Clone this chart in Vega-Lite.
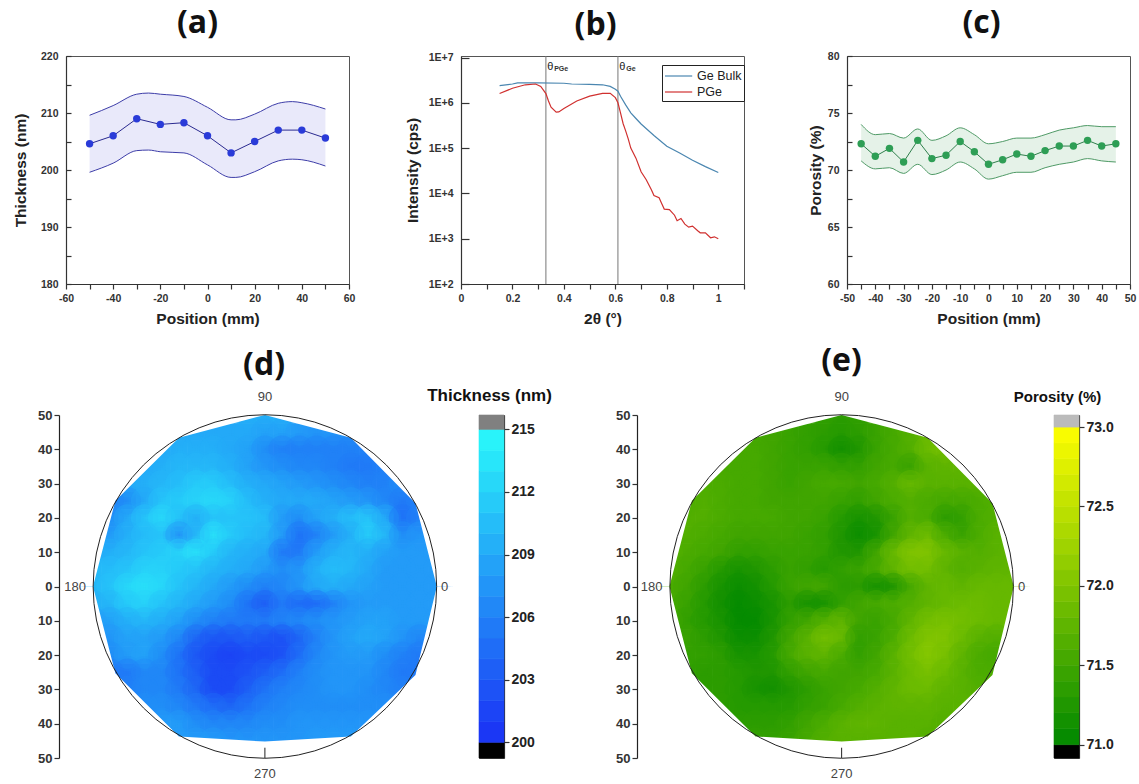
{"$schema":"https://vega.github.io/schema/vega-lite/v6.json","background":"white","padding":{"left":12,"top":6,"right":2,"bottom":2},"spacing":16,"resolve":{"scale":{"color":"independent","stroke":"independent"}},
"config":{"axis":{"grid":false,"labelFont":"Liberation Sans","titleFont":"Liberation Sans","labelFontWeight":"bold","titleFontWeight":"bold","labelFontSize":10.5,"titleFontSize":15.5,"labelColor":"#333333","titleColor":"#222222","domainColor":"#333333","tickColor":"#333333","domainWidth":1.2,"tickWidth":1.2,"labelOverlap":false,"labelFlush":false},"title":{"font":"Open Sans","fontWeight":"bold","fontSize":32,"color":"#111111"}},
"vconcat":[
{"bounds":"flush","spacing":112,"resolve":{"scale":{"color":"independent"}},"hconcat":[
{"width":283,"height":228,"view":{"stroke":"#555555"},"title":{"text":"(a)","dx":-10,"offset":11},
"layer":[
{"data":{"values":[{"x":-50,"lo":199.6,"hi":209.6},{"x":-40,"lo":201.2,"hi":211.3},{"x":-30,"lo":203.4,"hi":213.3},{"x":-25,"lo":203.5,"hi":213.5},{"x":-20,"lo":203.2,"hi":213.3},{"x":-10,"lo":203,"hi":212.9},{"x":0,"lo":200.9,"hi":211},{"x":10,"lo":198.7,"hi":208.8},{"x":12,"lo":198.7,"hi":208.8},{"x":20,"lo":199.7,"hi":209.8},{"x":30,"lo":201.6,"hi":211.7},{"x":36,"lo":201.9,"hi":212},{"x":40,"lo":201.8,"hi":211.8},{"x":50,"lo":200.7,"hi":210.7}]},
"layer":[
{"mark":{"type":"area","color":"#e9e9fa","interpolate":"monotone"},"encoding":{"x":{"field":"x","type":"quantitative","scale":{"domain":[-60,60],"nice":false,"zero":false},"axis":{"title":"Position (mm)","tickCount":100,"values":[-60,-50,-40,-30,-20,-10,0,10,20,30,40,50,60],"labelExpr":"datum.value%20==0?''+datum.value:''","labelOverlap":false,"labelFlush":false,"tickSize":5,"labelPadding":4,"titlePadding":8}},"y":{"field":"lo","type":"quantitative","scale":{"domain":[180,220],"nice":false,"zero":false},"axis":{"title":"Thickness (nm)","tickCount":100,"values":[180,185,190,195,200,205,210,215,220],"labelExpr":"datum.value%10==0?''+datum.value:''","labelOverlap":false,"labelFlush":false,"tickSize":-5,"labelPadding":13,"titlePadding":12}},"y2":{"field":"hi"}}},
{"mark":{"type":"line","color":"#3d3da8","strokeWidth":1,"interpolate":"monotone"},"encoding":{"x":{"field":"x","type":"quantitative"},"y":{"field":"lo","type":"quantitative"}}},
{"mark":{"type":"line","color":"#3d3da8","strokeWidth":1,"interpolate":"monotone"},"encoding":{"x":{"field":"x","type":"quantitative"},"y":{"field":"hi","type":"quantitative"}}}
]},
{"data":{"values":[{"x":-50,"y":204.6},{"x":-40,"y":206},{"x":-30,"y":209},{"x":-20,"y":208},{"x":-10,"y":208.3},{"x":0,"y":206},{"x":10,"y":203},{"x":20,"y":205},{"x":30,"y":207},{"x":40,"y":207},{"x":50,"y":205.6}]},
"layer":[
{"mark":{"type":"line","color":"#2a2a90","strokeWidth":1},"encoding":{"x":{"field":"x","type":"quantitative"},"y":{"field":"y","type":"quantitative"}}},
{"mark":{"type":"point","filled":true,"color":"#2a3bd8","size":55,"opacity":1},"encoding":{"x":{"field":"x","type":"quantitative"},"y":{"field":"y","type":"quantitative"}}}
]}
]},
{"bounds":"flush","spacing":103,"resolve":{"scale":{"color":"independent"}},"hconcat":[
{"width":283,"height":228,"view":{"stroke":"#555555"},"title":{"text":"(b)","dx":-7,"offset":11},
"layer":[
{"data":{"values":[{"x":0.33},{"x":0.61}]},"mark":{"type":"rule","color":"#777777","strokeWidth":1},"encoding":{"x":{"field":"x","type":"quantitative","scale":{"domain":[0,1.1],"nice":false,"zero":false},"axis":{"title":"2θ (°)","tickCount":100,"values":[0,0.1,0.2,0.3,0.4,0.5,0.6,0.7,0.8,0.9,1,1.1],"format":".1~f","labelExpr":"round(datum.value*10)%2==0&&datum.value<1.05?datum.label:''","labelOverlap":false,"labelFlush":false,"tickSize":5,"labelPadding":4,"titlePadding":8}}}},
{"data":{"values":[{"s":"Ge Bulk","x":0.15,"y":2400000},{"s":"Ge Bulk","x":0.2,"y":2600000},{"s":"Ge Bulk","x":0.22,"y":2750000},{"s":"Ge Bulk","x":0.3,"y":2750000},{"s":"Ge Bulk","x":0.4,"y":2700000},{"s":"Ge Bulk","x":0.43,"y":2600000},{"s":"Ge Bulk","x":0.5,"y":2550000},{"s":"Ge Bulk","x":0.55,"y":2500000},{"s":"Ge Bulk","x":0.58,"y":2300000},{"s":"Ge Bulk","x":0.6,"y":2000000},{"s":"Ge Bulk","x":0.61,"y":1800000},{"s":"Ge Bulk","x":0.62,"y":1400000},{"s":"Ge Bulk","x":0.64,"y":900000},{"s":"Ge Bulk","x":0.66,"y":600000},{"s":"Ge Bulk","x":0.68,"y":450000},{"s":"Ge Bulk","x":0.7,"y":340000},{"s":"Ge Bulk","x":0.75,"y":190000},{"s":"Ge Bulk","x":0.8,"y":110000},{"s":"Ge Bulk","x":0.85,"y":78000},{"s":"Ge Bulk","x":0.9,"y":54000},{"s":"Ge Bulk","x":0.95,"y":39000},{"s":"Ge Bulk","x":1,"y":29000},
{"s":"PGe","x":0.15,"y":1600000},{"s":"PGe","x":0.2,"y":2100000},{"s":"PGe","x":0.25,"y":2500000},{"s":"PGe","x":0.29,"y":2600000},{"s":"PGe","x":0.31,"y":2300000},{"s":"PGe","x":0.33,"y":1600000},{"s":"PGe","x":0.34,"y":1100000},{"s":"PGe","x":0.35,"y":800000},{"s":"PGe","x":0.37,"y":620000},{"s":"PGe","x":0.38,"y":630000},{"s":"PGe","x":0.4,"y":750000},{"s":"PGe","x":0.45,"y":1100000},{"s":"PGe","x":0.5,"y":1400000},{"s":"PGe","x":0.55,"y":1620000},{"s":"PGe","x":0.58,"y":1620000},{"s":"PGe","x":0.6,"y":1300000},{"s":"PGe","x":0.61,"y":1000000},{"s":"PGe","x":0.62,"y":600000},{"s":"PGe","x":0.63,"y":350000},{"s":"PGe","x":0.64,"y":240000},{"s":"PGe","x":0.65,"y":160000},{"s":"PGe","x":0.66,"y":100000},{"s":"PGe","x":0.68,"y":60000},{"s":"PGe","x":0.7,"y":30000},{"s":"PGe","x":0.72,"y":20000},{"s":"PGe","x":0.74,"y":12000},{"s":"PGe","x":0.75,"y":9000},{"s":"PGe","x":0.77,"y":8000},{"s":"PGe","x":0.78,"y":6000},{"s":"PGe","x":0.79,"y":4500},{"s":"PGe","x":0.81,"y":4400},{"s":"PGe","x":0.83,"y":3300},{"s":"PGe","x":0.84,"y":2500},{"s":"PGe","x":0.855,"y":2800},{"s":"PGe","x":0.87,"y":2100},{"s":"PGe","x":0.885,"y":1800},{"s":"PGe","x":0.9,"y":1900},{"s":"PGe","x":0.92,"y":1500},{"s":"PGe","x":0.93,"y":1350},{"s":"PGe","x":0.95,"y":1350},{"s":"PGe","x":0.97,"y":1050},{"s":"PGe","x":0.985,"y":1100},{"s":"PGe","x":1,"y":1000}]},
"mark":{"type":"line","strokeWidth":1.2},"encoding":{"x":{"field":"x","type":"quantitative"},"y":{"field":"y","type":"quantitative","scale":{"type":"log","domain":[100,10800000],"nice":false},"axis":{"title":"Intensity (cps)","values":[100,1000,10000,100000,1000000,10000000],"labelExpr":"'1E+'+round(log(datum.value)/LN10)","labelOverlap":false,"labelFlush":false,"tickSize":-8,"labelPadding":16,"titlePadding":8}},"color":{"field":"s","type":"nominal","scale":{"domain":["Ge Bulk","PGe"],"range":["#4a86b0","#d0302f"]},"legend":{"orient":"none","legendX":201,"legendY":9,"title":null,"strokeColor":"#222222","fillColor":"white","padding":2,"symbolType":"M-1,0H2.4","symbolSize":256,"symbolStrokeWidth":1.2,"labelOffset":15,"labelFont":"Liberation Sans","labelFontSize":12.5,"labelColor":"#222222","rowPadding":0}}}},
{"data":{"values":[{"x":0.335,"y":6200000,"t":"θ"},{"x":0.615,"y":6200000,"t":"θ"}]},"mark":{"type":"text","align":"left","font":"Liberation Sans","fontSize":11,"color":"#222222"},"encoding":{"x":{"field":"x","type":"quantitative"},"y":{"field":"y","type":"quantitative"},"text":{"field":"t"}}},
{"data":{"values":[{"x":0.335,"y":6200000,"t":"PGe"},{"x":0.615,"y":6200000,"t":"Ge"}]},"mark":{"type":"text","align":"left","dx":7,"dy":2,"font":"Liberation Sans","fontSize":7,"fontWeight":"bold","color":"#333333"},"encoding":{"x":{"field":"x","type":"quantitative"},"y":{"field":"y","type":"quantitative"},"text":{"field":"t"}}}
]},
{"width":283,"height":228,"view":{"stroke":"#555555"},"title":{"text":"(c)","dx":-7,"offset":11},
"layer":[
{"data":{"values":[{"x":-45,"lo":70.8,"hi":74},{"x":-40,"lo":70.1,"hi":73.1},{"x":-35,"lo":70.2,"hi":73.2},{"x":-30,"lo":69.7,"hi":72.8},{"x":-25,"lo":70.5,"hi":73.6},{"x":-20,"lo":69.6,"hi":72.6},{"x":-15,"lo":70,"hi":73},{"x":-10,"lo":70.7,"hi":73.7},{"x":-5,"lo":70.1,"hi":73.1},{"x":0,"lo":69.2,"hi":72.3},{"x":5,"lo":69.5,"hi":72.5},{"x":10,"lo":69.8,"hi":72.8},{"x":15,"lo":69.8,"hi":72.8},{"x":20,"lo":70.2,"hi":73.1},{"x":25,"lo":70.5,"hi":73.5},{"x":30,"lo":70.7,"hi":73.7},{"x":35,"lo":71,"hi":73.9},{"x":40,"lo":70.8,"hi":73.8},{"x":45,"lo":70.7,"hi":73.8}]},
"layer":[
{"mark":{"type":"area","color":"#e5f2e8","interpolate":"monotone"},"encoding":{"x":{"field":"x","type":"quantitative","scale":{"domain":[-50,50],"nice":false,"zero":false},"axis":{"title":"Position (mm)","tickCount":100,"values":[-50,-45,-40,-35,-30,-25,-20,-15,-10,-5,0,5,10,15,20,25,30,35,40,45,50],"labelExpr":"datum.value%10==0?''+datum.value:''","labelOverlap":false,"labelFlush":false,"tickSize":5,"labelPadding":4,"titlePadding":8}},"y":{"field":"lo","type":"quantitative","scale":{"domain":[60,80],"nice":false,"zero":false},"axis":{"title":"Porosity (%)","tickCount":100,"values":[60,62.5,65,67.5,70,72.5,75,77.5,80],"labelExpr":"datum.value%5==0?''+datum.value:''","labelOverlap":false,"labelFlush":false,"tickSize":-5,"labelPadding":13,"titlePadding":4}},"y2":{"field":"hi"}}},
{"mark":{"type":"line","color":"#4f9a66","strokeWidth":1,"interpolate":"monotone"},"encoding":{"x":{"field":"x","type":"quantitative"},"y":{"field":"lo","type":"quantitative"}}},
{"mark":{"type":"line","color":"#4f9a66","strokeWidth":1,"interpolate":"monotone"},"encoding":{"x":{"field":"x","type":"quantitative"},"y":{"field":"hi","type":"quantitative"}}}
]},
{"data":{"values":[{"x":-45,"y":72.3},{"x":-40,"y":71.2},{"x":-35,"y":71.9},{"x":-30,"y":70.7},{"x":-25,"y":72.6},{"x":-20,"y":71},{"x":-15,"y":71.3},{"x":-10,"y":72.5},{"x":-5,"y":71.6},{"x":0,"y":70.5},{"x":5,"y":70.9},{"x":10,"y":71.4},{"x":15,"y":71.2},{"x":20,"y":71.7},{"x":25,"y":72.1},{"x":30,"y":72.1},{"x":35,"y":72.6},{"x":40,"y":72.1},{"x":45,"y":72.3}]},
"layer":[
{"mark":{"type":"line","color":"#2f7f4c","strokeWidth":1},"encoding":{"x":{"field":"x","type":"quantitative"},"y":{"field":"y","type":"quantitative"}}},
{"mark":{"type":"point","filled":true,"color":"#2e9e55","size":55,"opacity":1},"encoding":{"x":{"field":"x","type":"quantitative"},"y":{"field":"y","type":"quantitative"}}}
]}
]}
]}
]},
{"spacing":62,"resolve":{"scale":{"color":"independent","stroke":"independent"}},"hconcat":[
{"bounds":"flush","spacing":25,"hconcat":[
{"width":388,"height":343,"view":{"stroke":null},"title":{"text":"(d)","dx":4,"offset":9},
"layer":[
{"data":{"values":[
{"x":-5,"y":50,"v":209.5},{"x":0,"y":50,"v":209.5},{"x":5,"y":50,"v":209.5},
{"x":-25,"y":45,"v":209},{"x":-20,"y":45,"v":209},{"x":-15,"y":45,"v":209},{"x":-10,"y":45,"v":209},{"x":-5,"y":45,"v":209},{"x":0,"y":45,"v":208.5},{"x":5,"y":45,"v":208.5},{"x":10,"y":45,"v":208},{"x":15,"y":45,"v":207.5},{"x":20,"y":45,"v":207.5},{"x":25,"y":45,"v":207},
{"x":-30,"y":40,"v":209},{"x":-25,"y":40,"v":209.5},{"x":-20,"y":40,"v":209.5},{"x":-15,"y":40,"v":209.5},{"x":-10,"y":40,"v":209},{"x":-5,"y":40,"v":208.5},{"x":0,"y":40,"v":207},{"x":5,"y":40,"v":206},{"x":10,"y":40,"v":206},{"x":15,"y":40,"v":206},{"x":20,"y":40,"v":206},{"x":25,"y":40,"v":206},{"x":30,"y":40,"v":206},
{"x":-35,"y":35,"v":209},{"x":-30,"y":35,"v":209.5},{"x":-25,"y":35,"v":210},{"x":-20,"y":35,"v":210},{"x":-15,"y":35,"v":210},{"x":-10,"y":35,"v":209.5},{"x":-5,"y":35,"v":208.5},{"x":0,"y":35,"v":207.5},{"x":5,"y":35,"v":207},{"x":10,"y":35,"v":206.5},{"x":15,"y":35,"v":206.5},{"x":20,"y":35,"v":206},{"x":25,"y":35,"v":205.5},{"x":30,"y":35,"v":205.5},{"x":35,"y":35,"v":206},
{"x":-40,"y":30,"v":209},{"x":-35,"y":30,"v":209.5},{"x":-30,"y":30,"v":210},{"x":-25,"y":30,"v":210.5},{"x":-20,"y":30,"v":211.5},{"x":-15,"y":30,"v":211.5},{"x":-10,"y":30,"v":210.5},{"x":-5,"y":30,"v":209.5},{"x":0,"y":30,"v":209},{"x":5,"y":30,"v":208.5},{"x":10,"y":30,"v":208},{"x":15,"y":30,"v":207.5},{"x":20,"y":30,"v":207},{"x":25,"y":30,"v":206.5},{"x":30,"y":30,"v":206},{"x":35,"y":30,"v":206},{"x":40,"y":30,"v":207},
{"x":-45,"y":25,"v":206},{"x":-40,"y":25,"v":207},{"x":-35,"y":25,"v":209},{"x":-30,"y":25,"v":211},{"x":-25,"y":25,"v":211.5},{"x":-20,"y":25,"v":212},{"x":-15,"y":25,"v":212.5},{"x":-10,"y":25,"v":212},{"x":-5,"y":25,"v":210.5},{"x":0,"y":25,"v":209.5},{"x":5,"y":25,"v":209},{"x":10,"y":25,"v":209},{"x":15,"y":25,"v":209},{"x":20,"y":25,"v":208.5},{"x":25,"y":25,"v":208},{"x":30,"y":25,"v":207.5},{"x":35,"y":25,"v":206.5},{"x":40,"y":25,"v":205.5},{"x":45,"y":25,"v":206},
{"x":-45,"y":20,"v":207},{"x":-40,"y":20,"v":209},{"x":-35,"y":20,"v":211},{"x":-30,"y":20,"v":212.5},{"x":-25,"y":20,"v":211},{"x":-20,"y":20,"v":209.5},{"x":-15,"y":20,"v":211},{"x":-10,"y":20,"v":211},{"x":-5,"y":20,"v":211},{"x":0,"y":20,"v":210.5},{"x":5,"y":20,"v":208},{"x":10,"y":20,"v":207},{"x":15,"y":20,"v":208.5},{"x":20,"y":20,"v":209.5},{"x":25,"y":20,"v":210.5},{"x":30,"y":20,"v":211},{"x":35,"y":20,"v":209},{"x":40,"y":20,"v":205},{"x":45,"y":20,"v":206},
{"x":-45,"y":15,"v":208},{"x":-40,"y":15,"v":209.5},{"x":-35,"y":15,"v":210.5},{"x":-30,"y":15,"v":211},{"x":-25,"y":15,"v":207.5},{"x":-20,"y":15,"v":210},{"x":-15,"y":15,"v":213},{"x":-10,"y":15,"v":211.5},{"x":-5,"y":15,"v":210.5},{"x":0,"y":15,"v":210},{"x":5,"y":15,"v":208},{"x":10,"y":15,"v":205},{"x":15,"y":15,"v":206},{"x":20,"y":15,"v":208},{"x":25,"y":15,"v":209.5},{"x":30,"y":15,"v":211.5},{"x":35,"y":15,"v":210},{"x":40,"y":15,"v":207},{"x":45,"y":15,"v":207.5},
{"x":-50,"y":10,"v":209},{"x":-45,"y":10,"v":209.5},{"x":-40,"y":10,"v":210},{"x":-35,"y":10,"v":211},{"x":-30,"y":10,"v":211.5},{"x":-25,"y":10,"v":212},{"x":-20,"y":10,"v":213},{"x":-15,"y":10,"v":211.5},{"x":-10,"y":10,"v":210},{"x":-5,"y":10,"v":209.5},{"x":0,"y":10,"v":209},{"x":5,"y":10,"v":205.5},{"x":10,"y":10,"v":205.5},{"x":15,"y":10,"v":208},{"x":20,"y":10,"v":209.5},{"x":25,"y":10,"v":210},{"x":30,"y":10,"v":209.5},{"x":35,"y":10,"v":208.5},{"x":40,"y":10,"v":208},{"x":45,"y":10,"v":208},{"x":50,"y":10,"v":208},
{"x":-50,"y":5,"v":210},{"x":-45,"y":5,"v":210.5},{"x":-40,"y":5,"v":211},{"x":-35,"y":5,"v":212},{"x":-30,"y":5,"v":212},{"x":-25,"y":5,"v":211.5},{"x":-20,"y":5,"v":211},{"x":-15,"y":5,"v":210},{"x":-10,"y":5,"v":209.5},{"x":-5,"y":5,"v":209},{"x":0,"y":5,"v":208},{"x":5,"y":5,"v":207},{"x":10,"y":5,"v":207.5},{"x":15,"y":5,"v":209.5},{"x":20,"y":5,"v":210.5},{"x":25,"y":5,"v":210},{"x":30,"y":5,"v":209},{"x":35,"y":5,"v":208},{"x":40,"y":5,"v":208},{"x":45,"y":5,"v":208},{"x":50,"y":5,"v":208},
{"x":-50,"y":0,"v":210},{"x":-45,"y":0,"v":211},{"x":-40,"y":0,"v":212.5},{"x":-35,"y":0,"v":213},{"x":-30,"y":0,"v":212.5},{"x":-25,"y":0,"v":211},{"x":-20,"y":0,"v":210},{"x":-15,"y":0,"v":209},{"x":-10,"y":0,"v":208},{"x":-5,"y":0,"v":207},{"x":0,"y":0,"v":206},{"x":5,"y":0,"v":206.5},{"x":10,"y":0,"v":207.5},{"x":15,"y":0,"v":209},{"x":20,"y":0,"v":209.5},{"x":25,"y":0,"v":209},{"x":30,"y":0,"v":208.5},{"x":35,"y":0,"v":208},{"x":40,"y":0,"v":208},{"x":45,"y":0,"v":208},{"x":50,"y":0,"v":208},
{"x":-50,"y":-5,"v":209.5},{"x":-45,"y":-5,"v":210},{"x":-40,"y":-5,"v":211.5},{"x":-35,"y":-5,"v":212},{"x":-30,"y":-5,"v":211},{"x":-25,"y":-5,"v":210},{"x":-20,"y":-5,"v":209},{"x":-15,"y":-5,"v":208},{"x":-10,"y":-5,"v":207},{"x":-5,"y":-5,"v":205},{"x":0,"y":-5,"v":203.5},{"x":5,"y":-5,"v":205.5},{"x":10,"y":-5,"v":204.5},{"x":15,"y":-5,"v":204.5},{"x":20,"y":-5,"v":206},{"x":25,"y":-5,"v":207.5},{"x":30,"y":-5,"v":208},{"x":35,"y":-5,"v":208},{"x":40,"y":-5,"v":208},{"x":45,"y":-5,"v":208},{"x":50,"y":-5,"v":208},
{"x":-50,"y":-10,"v":208},{"x":-45,"y":-10,"v":208.5},{"x":-40,"y":-10,"v":209.5},{"x":-35,"y":-10,"v":210},{"x":-30,"y":-10,"v":209.5},{"x":-25,"y":-10,"v":208.5},{"x":-20,"y":-10,"v":207},{"x":-15,"y":-10,"v":206},{"x":-10,"y":-10,"v":205.5},{"x":-5,"y":-10,"v":205.5},{"x":0,"y":-10,"v":205.5},{"x":5,"y":-10,"v":206},{"x":10,"y":-10,"v":206.5},{"x":15,"y":-10,"v":207},{"x":20,"y":-10,"v":207.5},{"x":25,"y":-10,"v":208},{"x":30,"y":-10,"v":208.5},{"x":35,"y":-10,"v":208.5},{"x":40,"y":-10,"v":208},{"x":45,"y":-10,"v":208},{"x":50,"y":-10,"v":208},
{"x":-45,"y":-15,"v":207.5},{"x":-40,"y":-15,"v":208.5},{"x":-35,"y":-15,"v":208.5},{"x":-30,"y":-15,"v":208},{"x":-25,"y":-15,"v":206.5},{"x":-20,"y":-15,"v":204},{"x":-15,"y":-15,"v":203},{"x":-10,"y":-15,"v":203},{"x":-5,"y":-15,"v":203.5},{"x":0,"y":-15,"v":203},{"x":5,"y":-15,"v":202.5},{"x":10,"y":-15,"v":204},{"x":15,"y":-15,"v":206},{"x":20,"y":-15,"v":207.5},{"x":25,"y":-15,"v":208.5},{"x":30,"y":-15,"v":209},{"x":35,"y":-15,"v":208.5},{"x":40,"y":-15,"v":207.5},{"x":45,"y":-15,"v":206.5},
{"x":-45,"y":-20,"v":207},{"x":-40,"y":-20,"v":208},{"x":-35,"y":-20,"v":208.5},{"x":-30,"y":-20,"v":207},{"x":-25,"y":-20,"v":205},{"x":-20,"y":-20,"v":203},{"x":-15,"y":-20,"v":202},{"x":-10,"y":-20,"v":201.5},{"x":-5,"y":-20,"v":202},{"x":0,"y":-20,"v":202},{"x":5,"y":-20,"v":202.5},{"x":10,"y":-20,"v":204.5},{"x":15,"y":-20,"v":206.5},{"x":20,"y":-20,"v":207.5},{"x":25,"y":-20,"v":208},{"x":30,"y":-20,"v":208},{"x":35,"y":-20,"v":207},{"x":40,"y":-20,"v":206},{"x":45,"y":-20,"v":205.5},
{"x":-45,"y":-25,"v":205.5},{"x":-40,"y":-25,"v":205.5},{"x":-35,"y":-25,"v":206.5},{"x":-30,"y":-25,"v":206.5},{"x":-25,"y":-25,"v":205},{"x":-20,"y":-25,"v":203.5},{"x":-15,"y":-25,"v":202},{"x":-10,"y":-25,"v":202},{"x":-5,"y":-25,"v":202.5},{"x":0,"y":-25,"v":203.5},{"x":5,"y":-25,"v":204.5},{"x":10,"y":-25,"v":206},{"x":15,"y":-25,"v":207},{"x":20,"y":-25,"v":207.5},{"x":25,"y":-25,"v":207.5},{"x":30,"y":-25,"v":207.5},{"x":35,"y":-25,"v":206.5},{"x":40,"y":-25,"v":205.5},{"x":45,"y":-25,"v":205.5},
{"x":-40,"y":-30,"v":206},{"x":-35,"y":-30,"v":206.5},{"x":-30,"y":-30,"v":206.5},{"x":-25,"y":-30,"v":205.5},{"x":-20,"y":-30,"v":204},{"x":-15,"y":-30,"v":202},{"x":-10,"y":-30,"v":202},{"x":-5,"y":-30,"v":203.5},{"x":0,"y":-30,"v":205},{"x":5,"y":-30,"v":206},{"x":10,"y":-30,"v":206.5},{"x":15,"y":-30,"v":207},{"x":20,"y":-30,"v":207.5},{"x":25,"y":-30,"v":207.5},{"x":30,"y":-30,"v":207},{"x":35,"y":-30,"v":206.5},{"x":40,"y":-30,"v":206},
{"x":-35,"y":-35,"v":207},{"x":-30,"y":-35,"v":207},{"x":-25,"y":-35,"v":206.5},{"x":-20,"y":-35,"v":205.5},{"x":-15,"y":-35,"v":204.5},{"x":-10,"y":-35,"v":204},{"x":-5,"y":-35,"v":205},{"x":0,"y":-35,"v":206},{"x":5,"y":-35,"v":206.5},{"x":10,"y":-35,"v":207},{"x":15,"y":-35,"v":207},{"x":20,"y":-35,"v":207},{"x":25,"y":-35,"v":207},{"x":30,"y":-35,"v":207},{"x":35,"y":-35,"v":207},
{"x":-30,"y":-40,"v":208},{"x":-25,"y":-40,"v":208},{"x":-20,"y":-40,"v":207},{"x":-15,"y":-40,"v":206.5},{"x":-10,"y":-40,"v":206.5},{"x":-5,"y":-40,"v":206.5},{"x":0,"y":-40,"v":207},{"x":5,"y":-40,"v":207},{"x":10,"y":-40,"v":207.5},{"x":15,"y":-40,"v":207.5},{"x":20,"y":-40,"v":207.5},{"x":25,"y":-40,"v":207.5},{"x":30,"y":-40,"v":207.5},
{"x":-25,"y":-45,"v":208},{"x":-20,"y":-45,"v":208},{"x":-15,"y":-45,"v":208},{"x":-10,"y":-45,"v":207.5},{"x":-5,"y":-45,"v":207.5},{"x":0,"y":-45,"v":207.5},{"x":5,"y":-45,"v":207.5},{"x":10,"y":-45,"v":207.5},{"x":15,"y":-45,"v":208},{"x":20,"y":-45,"v":208},{"x":25,"y":-45,"v":208}
]},
"layer":[
{"mark":{"type":"rect","width":17.5,"height":17.5},"encoding":{"x":{"field":"x","type":"quantitative","scale":{"domain":[-57.85,55],"nice":false,"zero":false},"axis":null},"y":{"field":"y","type":"quantitative","scale":{"domain":[-50,50],"nice":false,"zero":false},"axis":{"title":null,"tickCount":100,"values":[-50,-40,-30,-20,-10,0,10,20,30,40,50],"labelExpr":"abs(datum.value)","offset":7,"tickSize":5,"labelFontSize":13,"domainColor":"#222222"}},"color":{"field":"v","type":"quantitative","legend":null,"scale":{"domain":[199,199.9,200,215,215.1,216],"range":["#000000","#000000","#1a30f5","#2afafa","#808080","#808080"],"interpolate":"rgb"}}}},
{"mark":{"type":"point","filled":true,"size":1050,"opacity":0.25,"strokeWidth":0},"encoding":{"x":{"field":"x","type":"quantitative"},"y":{"field":"y","type":"quantitative"},"color":{"field":"v","type":"quantitative","legend":null}}},
{"mark":{"type":"point","filled":true,"size":750,"opacity":0.4,"strokeWidth":0},"encoding":{"x":{"field":"x","type":"quantitative"},"y":{"field":"y","type":"quantitative"},"color":{"field":"v","type":"quantitative","legend":null}}}
]},
{"data":{"values":[{"x":-57.85,"a":0,"b":57,"m":"u"},{"x":-50,"a":0,"b":57,"m":"u"},{"x":-43.5,"a":25,"b":57,"m":"u"},{"x":-25,"a":43.4,"b":57,"m":"u"},{"x":0,"a":50,"b":57,"m":"u"},{"x":25,"a":43.4,"b":57,"m":"u"},{"x":43.8,"a":24.3,"b":57,"m":"u"},{"x":50,"a":0,"b":57,"m":"u"},{"x":55,"a":0,"b":57,"m":"u"},{"x":-57.85,"a":0,"b":-57,"m":"l"},{"x":-50,"a":0,"b":-57,"m":"l"},{"x":-43.5,"a":-25.3,"b":-57,"m":"l"},{"x":-25,"a":-43.7,"b":-57,"m":"l"},{"x":0,"a":-45.2,"b":-57,"m":"l"},{"x":25,"a":-43.7,"b":-57,"m":"l"},{"x":43.8,"a":-25.8,"b":-57,"m":"l"},{"x":50,"a":0,"b":-57,"m":"l"},{"x":55,"a":0,"b":-57,"m":"l"}]},
"mark":{"type":"area","color":"white","orient":"vertical"},"encoding":{"x":{"field":"x","type":"quantitative"},"y":{"field":"a","type":"quantitative"},"y2":{"field":"b"},"detail":{"field":"m"}}},
{"data":{"values":[{"x":0,"y":0}]},"mark":{"type":"point","filled":false,"stroke":"#222222","strokeWidth":1,"size":118000,"opacity":1},"encoding":{"x":{"field":"x","type":"quantitative"},"y":{"field":"y","type":"quantitative"}}},
{"data":{"values":[{"x":0,"a":-50,"b":-47}]},"mark":{"type":"rule","color":"#222222"},"encoding":{"x":{"field":"x","type":"quantitative"},"y":{"field":"a","type":"quantitative"},"y2":{"field":"b"}}},
{"data":{"values":[{"x":-55.2,"y":0,"t":"180"},{"x":52.3,"y":0,"t":"0"},{"x":0,"y":55.2,"t":"90"},{"x":0,"y":-54.6,"t":"270"}]},"mark":{"type":"text","font":"Liberation Sans","fontSize":13,"color":"#444444"},"encoding":{"x":{"field":"x","type":"quantitative"},"y":{"field":"y","type":"quantitative"},"text":{"field":"t"}}}
]},
{"width":25,"height":343,"view":{"stroke":"#444444"},"title":{"text":"Thickness (nm)","font":"Liberation Sans","fontSize":17,"offset":10,"dx":-2},
"data":{"values":[{"v":199.6,"a":199.25,"b":200},{"v":200.5,"a":200,"b":201},{"v":201.5,"a":201,"b":202},{"v":202.5,"a":202,"b":203},{"v":203.5,"a":203,"b":204},{"v":204.5,"a":204,"b":205},{"v":205.5,"a":205,"b":206},{"v":206.5,"a":206,"b":207},{"v":207.5,"a":207,"b":208},{"v":208.5,"a":208,"b":209},{"v":209.5,"a":209,"b":210},{"v":210.5,"a":210,"b":211},{"v":211.5,"a":211,"b":212},{"v":212.5,"a":212,"b":213},{"v":213.5,"a":213,"b":214},{"v":214.5,"a":214,"b":215},{"v":215.3,"a":215,"b":215.69}]},
"mark":{"type":"rect","strokeWidth":0.6},"encoding":{"y":{"field":"a","type":"quantitative","scale":{"domain":[199.25,215.69],"nice":false,"zero":false},"axis":{"orient":"right","title":null,"values":[200,203,206,209,212,215],"tickSize":5,"labelFontSize":14,"labelColor":"#222222"}},"y2":{"field":"b"},"color":{"field":"v","type":"quantitative","legend":null,"scale":{"domain":[199,199.9,200,215,215.1,216],"range":["#000000","#000000","#1a30f5","#2afafa","#808080","#808080"],"interpolate":"rgb"}},"stroke":{"field":"v","type":"quantitative","legend":null,"scale":{"domain":[199,199.9,200,215,215.1,216],"range":["#000000","#000000","#1a30f5","#2afafa","#808080","#808080"],"interpolate":"rgb"}}}}
]},
{"bounds":"flush","spacing":23,"hconcat":[
{"width":387,"height":343,"view":{"stroke":null},"title":{"text":"(e)","dx":4,"offset":13},
"layer":[
{"data":{"values":[
{"x":-5,"y":50,"v":71.4},{"x":0,"y":50,"v":71.35},{"x":5,"y":50,"v":71.4},
{"x":-25,"y":45,"v":71.5},{"x":-20,"y":45,"v":71.5},{"x":-15,"y":45,"v":71.45},{"x":-10,"y":45,"v":71.4},{"x":-5,"y":45,"v":71.35},{"x":0,"y":45,"v":71.3},{"x":5,"y":45,"v":71.35},{"x":10,"y":45,"v":71.45},{"x":15,"y":45,"v":71.55},{"x":20,"y":45,"v":71.65},{"x":25,"y":45,"v":71.8},
{"x":-30,"y":40,"v":71.55},{"x":-25,"y":40,"v":71.55},{"x":-20,"y":40,"v":71.5},{"x":-15,"y":40,"v":71.45},{"x":-10,"y":40,"v":71.4},{"x":-5,"y":40,"v":71.3},{"x":0,"y":40,"v":71.15},{"x":5,"y":40,"v":71.25},{"x":10,"y":40,"v":71.45},{"x":15,"y":40,"v":71.55},{"x":20,"y":40,"v":71.65},{"x":25,"y":40,"v":71.85},{"x":30,"y":40,"v":71.9},
{"x":-35,"y":35,"v":71.55},{"x":-30,"y":35,"v":71.55},{"x":-25,"y":35,"v":71.55},{"x":-20,"y":35,"v":71.5},{"x":-15,"y":35,"v":71.45},{"x":-10,"y":35,"v":71.45},{"x":-5,"y":35,"v":71.45},{"x":0,"y":35,"v":71.4},{"x":5,"y":35,"v":71.4},{"x":10,"y":35,"v":71.5},{"x":15,"y":35,"v":71.55},{"x":20,"y":35,"v":71.45},{"x":25,"y":35,"v":71.7},{"x":30,"y":35,"v":71.75},{"x":35,"y":35,"v":71.75},
{"x":-40,"y":30,"v":71.6},{"x":-35,"y":30,"v":71.6},{"x":-30,"y":30,"v":71.55},{"x":-25,"y":30,"v":71.55},{"x":-20,"y":30,"v":71.5},{"x":-15,"y":30,"v":71.45},{"x":-10,"y":30,"v":71.5},{"x":-5,"y":30,"v":71.55},{"x":0,"y":30,"v":71.55},{"x":5,"y":30,"v":71.5},{"x":10,"y":30,"v":71.55},{"x":15,"y":30,"v":71.65},{"x":20,"y":30,"v":71.8},{"x":25,"y":30,"v":71.7},{"x":30,"y":30,"v":71.7},{"x":35,"y":30,"v":71.7},{"x":40,"y":30,"v":71.7},
{"x":-45,"y":25,"v":71.6},{"x":-40,"y":25,"v":71.65},{"x":-35,"y":25,"v":71.6},{"x":-30,"y":25,"v":71.55},{"x":-25,"y":25,"v":71.55},{"x":-20,"y":25,"v":71.5},{"x":-15,"y":25,"v":71.5},{"x":-10,"y":25,"v":71.5},{"x":-5,"y":25,"v":71.5},{"x":0,"y":25,"v":71.45},{"x":5,"y":25,"v":71.4},{"x":10,"y":25,"v":71.5},{"x":15,"y":25,"v":71.6},{"x":20,"y":25,"v":71.65},{"x":25,"y":25,"v":71.6},{"x":30,"y":25,"v":71.55},{"x":35,"y":25,"v":71.55},{"x":40,"y":25,"v":71.6},{"x":45,"y":25,"v":71.65},
{"x":-45,"y":20,"v":71.65},{"x":-40,"y":20,"v":71.65},{"x":-35,"y":20,"v":71.6},{"x":-30,"y":20,"v":71.55},{"x":-25,"y":20,"v":71.55},{"x":-20,"y":20,"v":71.55},{"x":-15,"y":20,"v":71.5},{"x":-10,"y":20,"v":71.5},{"x":-5,"y":20,"v":71.45},{"x":0,"y":20,"v":71.3},{"x":5,"y":20,"v":71.2},{"x":10,"y":20,"v":71.25},{"x":15,"y":20,"v":71.45},{"x":20,"y":20,"v":71.65},{"x":25,"y":20,"v":71.6},{"x":30,"y":20,"v":71.35},{"x":35,"y":20,"v":71.4},{"x":40,"y":20,"v":71.6},{"x":45,"y":20,"v":71.65},
{"x":-45,"y":15,"v":71.65},{"x":-40,"y":15,"v":71.6},{"x":-35,"y":15,"v":71.55},{"x":-30,"y":15,"v":71.5},{"x":-25,"y":15,"v":71.5},{"x":-20,"y":15,"v":71.5},{"x":-15,"y":15,"v":71.5},{"x":-10,"y":15,"v":71.45},{"x":-5,"y":15,"v":71.4},{"x":0,"y":15,"v":71.25},{"x":5,"y":15,"v":71.1},{"x":10,"y":15,"v":71.2},{"x":15,"y":15,"v":71.5},{"x":20,"y":15,"v":71.75},{"x":25,"y":15,"v":71.85},{"x":30,"y":15,"v":71.6},{"x":35,"y":15,"v":71.45},{"x":40,"y":15,"v":71.6},{"x":45,"y":15,"v":71.7},
{"x":-50,"y":10,"v":71.7},{"x":-45,"y":10,"v":71.6},{"x":-40,"y":10,"v":71.55},{"x":-35,"y":10,"v":71.5},{"x":-30,"y":10,"v":71.4},{"x":-25,"y":10,"v":71.4},{"x":-20,"y":10,"v":71.45},{"x":-15,"y":10,"v":71.45},{"x":-10,"y":10,"v":71.45},{"x":-5,"y":10,"v":71.4},{"x":0,"y":10,"v":71.25},{"x":5,"y":10,"v":71.25},{"x":10,"y":10,"v":71.5},{"x":15,"y":10,"v":71.8},{"x":20,"y":10,"v":72},{"x":25,"y":10,"v":72},{"x":30,"y":10,"v":71.8},{"x":35,"y":10,"v":71.7},{"x":40,"y":10,"v":71.65},{"x":45,"y":10,"v":71.7},{"x":50,"y":10,"v":71.75},
{"x":-50,"y":5,"v":71.65},{"x":-45,"y":5,"v":71.55},{"x":-40,"y":5,"v":71.45},{"x":-35,"y":5,"v":71.3},{"x":-30,"y":5,"v":71.2},{"x":-25,"y":5,"v":71.25},{"x":-20,"y":5,"v":71.35},{"x":-15,"y":5,"v":71.45},{"x":-10,"y":5,"v":71.4},{"x":-5,"y":5,"v":71.3},{"x":0,"y":5,"v":71.4},{"x":5,"y":5,"v":71.45},{"x":10,"y":5,"v":71.55},{"x":15,"y":5,"v":71.75},{"x":20,"y":5,"v":71.9},{"x":25,"y":5,"v":71.9},{"x":30,"y":5,"v":71.75},{"x":35,"y":5,"v":71.65},{"x":40,"y":5,"v":71.7},{"x":45,"y":5,"v":71.75},{"x":50,"y":5,"v":71.75},
{"x":-50,"y":0,"v":71.6},{"x":-45,"y":0,"v":71.5},{"x":-40,"y":0,"v":71.35},{"x":-35,"y":0,"v":71.2},{"x":-30,"y":0,"v":71.1},{"x":-25,"y":0,"v":71.15},{"x":-20,"y":0,"v":71.3},{"x":-15,"y":0,"v":71.45},{"x":-10,"y":0,"v":71.5},{"x":-5,"y":0,"v":71.5},{"x":0,"y":0,"v":71.35},{"x":5,"y":0,"v":71.35},{"x":10,"y":0,"v":71.2},{"x":15,"y":0,"v":71.25},{"x":20,"y":0,"v":71.55},{"x":25,"y":0,"v":71.75},{"x":30,"y":0,"v":71.8},{"x":35,"y":0,"v":71.75},{"x":40,"y":0,"v":71.8},{"x":45,"y":0,"v":71.8},{"x":50,"y":0,"v":71.8},
{"x":-50,"y":-5,"v":71.55},{"x":-45,"y":-5,"v":71.45},{"x":-40,"y":-5,"v":71.3},{"x":-35,"y":-5,"v":71.15},{"x":-30,"y":-5,"v":71.05},{"x":-25,"y":-5,"v":71.1},{"x":-20,"y":-5,"v":71.2},{"x":-15,"y":-5,"v":71.35},{"x":-10,"y":-5,"v":71.2},{"x":-5,"y":-5,"v":71.2},{"x":0,"y":-5,"v":71.4},{"x":5,"y":-5,"v":71.5},{"x":10,"y":-5,"v":71.55},{"x":15,"y":-5,"v":71.6},{"x":20,"y":-5,"v":71.65},{"x":25,"y":-5,"v":71.75},{"x":30,"y":-5,"v":71.8},{"x":35,"y":-5,"v":71.85},{"x":40,"y":-5,"v":71.85},{"x":45,"y":-5,"v":71.8},{"x":50,"y":-5,"v":71.8},
{"x":-50,"y":-10,"v":71.55},{"x":-45,"y":-10,"v":71.4},{"x":-40,"y":-10,"v":71.3},{"x":-35,"y":-10,"v":71.2},{"x":-30,"y":-10,"v":71.05},{"x":-25,"y":-10,"v":71.05},{"x":-20,"y":-10,"v":71.2},{"x":-15,"y":-10,"v":71.4},{"x":-10,"y":-10,"v":71.5},{"x":-5,"y":-10,"v":71.65},{"x":0,"y":-10,"v":71.75},{"x":5,"y":-10,"v":71.5},{"x":10,"y":-10,"v":71.45},{"x":15,"y":-10,"v":71.55},{"x":20,"y":-10,"v":71.75},{"x":25,"y":-10,"v":71.9},{"x":30,"y":-10,"v":71.95},{"x":35,"y":-10,"v":71.9},{"x":40,"y":-10,"v":71.85},{"x":45,"y":-10,"v":71.8},{"x":50,"y":-10,"v":71.8},
{"x":-45,"y":-15,"v":71.45},{"x":-40,"y":-15,"v":71.35},{"x":-35,"y":-15,"v":71.25},{"x":-30,"y":-15,"v":71.1},{"x":-25,"y":-15,"v":71.1},{"x":-20,"y":-15,"v":71.25},{"x":-15,"y":-15,"v":71.5},{"x":-10,"y":-15,"v":71.7},{"x":-5,"y":-15,"v":71.9},{"x":0,"y":-15,"v":71.8},{"x":5,"y":-15,"v":71.4},{"x":10,"y":-15,"v":71.45},{"x":15,"y":-15,"v":71.6},{"x":20,"y":-15,"v":71.85},{"x":25,"y":-15,"v":72},{"x":30,"y":-15,"v":72},{"x":35,"y":-15,"v":71.85},{"x":40,"y":-15,"v":71.7},{"x":45,"y":-15,"v":71.65},
{"x":-45,"y":-20,"v":71.4},{"x":-40,"y":-20,"v":71.4},{"x":-35,"y":-20,"v":71.35},{"x":-30,"y":-20,"v":71.2},{"x":-25,"y":-20,"v":71.2},{"x":-20,"y":-20,"v":71.3},{"x":-15,"y":-20,"v":71.55},{"x":-10,"y":-20,"v":71.7},{"x":-5,"y":-20,"v":71.75},{"x":0,"y":-20,"v":71.6},{"x":5,"y":-20,"v":71.4},{"x":10,"y":-20,"v":71.5},{"x":15,"y":-20,"v":71.7},{"x":20,"y":-20,"v":71.9},{"x":25,"y":-20,"v":72.05},{"x":30,"y":-20,"v":71.95},{"x":35,"y":-20,"v":71.75},{"x":40,"y":-20,"v":71.6},{"x":45,"y":-20,"v":71.55},
{"x":-45,"y":-25,"v":71.4},{"x":-40,"y":-25,"v":71.35},{"x":-35,"y":-25,"v":71.35},{"x":-30,"y":-25,"v":71.3},{"x":-25,"y":-25,"v":71.25},{"x":-20,"y":-25,"v":71.25},{"x":-15,"y":-25,"v":71.4},{"x":-10,"y":-25,"v":71.5},{"x":-5,"y":-25,"v":71.55},{"x":0,"y":-25,"v":71.5},{"x":5,"y":-25,"v":71.5},{"x":10,"y":-25,"v":71.55},{"x":15,"y":-25,"v":71.7},{"x":20,"y":-25,"v":71.85},{"x":25,"y":-25,"v":71.95},{"x":30,"y":-25,"v":71.85},{"x":35,"y":-25,"v":71.7},{"x":40,"y":-25,"v":71.6},{"x":45,"y":-25,"v":71.6},
{"x":-40,"y":-30,"v":71.35},{"x":-35,"y":-30,"v":71.35},{"x":-30,"y":-30,"v":71.3},{"x":-25,"y":-30,"v":71.2},{"x":-20,"y":-30,"v":71.15},{"x":-15,"y":-30,"v":71.25},{"x":-10,"y":-30,"v":71.35},{"x":-5,"y":-30,"v":71.45},{"x":0,"y":-30,"v":71.5},{"x":5,"y":-30,"v":71.55},{"x":10,"y":-30,"v":71.65},{"x":15,"y":-30,"v":71.75},{"x":20,"y":-30,"v":71.85},{"x":25,"y":-30,"v":71.85},{"x":30,"y":-30,"v":71.75},{"x":35,"y":-30,"v":71.7},{"x":40,"y":-30,"v":71.65},
{"x":-35,"y":-35,"v":71.35},{"x":-30,"y":-35,"v":71.3},{"x":-25,"y":-35,"v":71.3},{"x":-20,"y":-35,"v":71.3},{"x":-15,"y":-35,"v":71.3},{"x":-10,"y":-35,"v":71.4},{"x":-5,"y":-35,"v":71.45},{"x":0,"y":-35,"v":71.55},{"x":5,"y":-35,"v":71.65},{"x":10,"y":-35,"v":71.7},{"x":15,"y":-35,"v":71.75},{"x":20,"y":-35,"v":71.75},{"x":25,"y":-35,"v":71.75},{"x":30,"y":-35,"v":71.7},{"x":35,"y":-35,"v":71.7},
{"x":-30,"y":-40,"v":71.35},{"x":-25,"y":-40,"v":71.35},{"x":-20,"y":-40,"v":71.35},{"x":-15,"y":-40,"v":71.4},{"x":-10,"y":-40,"v":71.5},{"x":-5,"y":-40,"v":71.6},{"x":0,"y":-40,"v":71.7},{"x":5,"y":-40,"v":71.75},{"x":10,"y":-40,"v":71.75},{"x":15,"y":-40,"v":71.7},{"x":20,"y":-40,"v":71.7},{"x":25,"y":-40,"v":71.7},{"x":30,"y":-40,"v":71.65},
{"x":-25,"y":-45,"v":71.4},{"x":-20,"y":-45,"v":71.4},{"x":-15,"y":-45,"v":71.45},{"x":-10,"y":-45,"v":71.55},{"x":-5,"y":-45,"v":71.65},{"x":0,"y":-45,"v":71.7},{"x":5,"y":-45,"v":71.7},{"x":10,"y":-45,"v":71.7},{"x":15,"y":-45,"v":71.7},{"x":20,"y":-45,"v":71.7},{"x":25,"y":-45,"v":71.65}
]},
"layer":[
{"mark":{"type":"rect","width":17.5,"height":17.5},"encoding":{"x":{"field":"x","type":"quantitative","scale":{"domain":[-57.4,55],"nice":false,"zero":false},"axis":null},"y":{"field":"y","type":"quantitative","scale":{"domain":[-50,50],"nice":false,"zero":false},"axis":{"title":null,"tickCount":100,"values":[-50,-40,-30,-20,-10,0,10,20,30,40,50],"labelExpr":"abs(datum.value)","offset":7,"tickSize":5,"labelFontSize":13,"domainColor":"#222222"}},"color":{"field":"v","type":"quantitative","legend":null,"scale":{"domain":[70,70.99,71,72,73,73.01,74],"range":["#000000","#000000","#008800","#7fc400","#ffff00","#bbbbbb","#bbbbbb"],"interpolate":"rgb"}}}},
{"mark":{"type":"point","filled":true,"size":1050,"opacity":0.25,"strokeWidth":0},"encoding":{"x":{"field":"x","type":"quantitative"},"y":{"field":"y","type":"quantitative"},"color":{"field":"v","type":"quantitative","legend":null}}},
{"mark":{"type":"point","filled":true,"size":750,"opacity":0.4,"strokeWidth":0},"encoding":{"x":{"field":"x","type":"quantitative"},"y":{"field":"y","type":"quantitative"},"color":{"field":"v","type":"quantitative","legend":null}}}
]},
{"data":{"values":[{"x":-57.4,"a":0,"b":57,"m":"u"},{"x":-50,"a":0,"b":57,"m":"u"},{"x":-43.5,"a":25,"b":57,"m":"u"},{"x":-25,"a":43.4,"b":57,"m":"u"},{"x":0,"a":50,"b":57,"m":"u"},{"x":25,"a":43.4,"b":57,"m":"u"},{"x":43.8,"a":24.3,"b":57,"m":"u"},{"x":50,"a":0,"b":57,"m":"u"},{"x":55,"a":0,"b":57,"m":"u"},{"x":-57.4,"a":0,"b":-57,"m":"l"},{"x":-50,"a":0,"b":-57,"m":"l"},{"x":-43.5,"a":-25.3,"b":-57,"m":"l"},{"x":-25,"a":-43.7,"b":-57,"m":"l"},{"x":0,"a":-45.2,"b":-57,"m":"l"},{"x":25,"a":-43.7,"b":-57,"m":"l"},{"x":43.8,"a":-25.8,"b":-57,"m":"l"},{"x":50,"a":0,"b":-57,"m":"l"},{"x":55,"a":0,"b":-57,"m":"l"}]},
"mark":{"type":"area","color":"white","orient":"vertical"},"encoding":{"x":{"field":"x","type":"quantitative"},"y":{"field":"a","type":"quantitative"},"y2":{"field":"b"},"detail":{"field":"m"}}},
{"data":{"values":[{"x":0,"y":0}]},"mark":{"type":"point","filled":false,"stroke":"#222222","strokeWidth":1,"size":118000,"opacity":1},"encoding":{"x":{"field":"x","type":"quantitative"},"y":{"field":"y","type":"quantitative"}}},
{"data":{"values":[{"x":0,"a":-50,"b":-47}]},"mark":{"type":"rule","color":"#222222"},"encoding":{"x":{"field":"x","type":"quantitative"},"y":{"field":"a","type":"quantitative"},"y2":{"field":"b"}}},
{"data":{"values":[{"x":-55.2,"y":0,"t":"180"},{"x":52.3,"y":0,"t":"0"},{"x":0,"y":55.2,"t":"90"},{"x":0,"y":-54.6,"t":"270"}]},"mark":{"type":"text","font":"Liberation Sans","fontSize":13,"color":"#444444"},"encoding":{"x":{"field":"x","type":"quantitative"},"y":{"field":"y","type":"quantitative"},"text":{"field":"t"}}}
]},
{"width":25,"height":343,"view":{"stroke":"#444444"},"title":{"text":"Porosity (%)","font":"Liberation Sans","fontSize":15,"offset":10,"dx":-9},
"data":{"values":[{"v":70.95,"a":70.916,"b":71},{"v":71.05,"a":71,"b":71.1},{"v":71.15,"a":71.1,"b":71.2},{"v":71.25,"a":71.2,"b":71.3},{"v":71.35,"a":71.3,"b":71.4},{"v":71.45,"a":71.4,"b":71.5},{"v":71.55,"a":71.5,"b":71.6},{"v":71.65,"a":71.6,"b":71.7},{"v":71.75,"a":71.7,"b":71.8},{"v":71.85,"a":71.8,"b":71.9},{"v":71.95,"a":71.9,"b":72},{"v":72.05,"a":72,"b":72.1},{"v":72.15,"a":72.1,"b":72.2},{"v":72.25,"a":72.2,"b":72.3},{"v":72.35,"a":72.3,"b":72.4},{"v":72.45,"a":72.4,"b":72.5},{"v":72.55,"a":72.5,"b":72.6},{"v":72.65,"a":72.6,"b":72.7},{"v":72.75,"a":72.7,"b":72.8},{"v":72.85,"a":72.8,"b":72.9},{"v":72.95,"a":72.9,"b":73},{"v":73.04,"a":73,"b":73.076}]},
"mark":{"type":"rect","strokeWidth":0.6},"encoding":{"y":{"field":"a","type":"quantitative","scale":{"domain":[70.916,73.076],"nice":false,"zero":false},"axis":{"orient":"right","title":null,"values":[71,71.5,72,72.5,73],"format":".1f","tickSize":5,"labelFontSize":14,"labelColor":"#222222"}},"y2":{"field":"b"},"color":{"field":"v","type":"quantitative","legend":null,"scale":{"domain":[70,70.99,71,72,73,73.01,74],"range":["#000000","#000000","#008800","#7fc400","#ffff00","#bbbbbb","#bbbbbb"],"interpolate":"rgb"}},"stroke":{"field":"v","type":"quantitative","legend":null,"scale":{"domain":[70,70.99,71,72,73,73.01,74],"range":["#000000","#000000","#008800","#7fc400","#ffff00","#bbbbbb","#bbbbbb"],"interpolate":"rgb"}}}}
]}
]}
]}
